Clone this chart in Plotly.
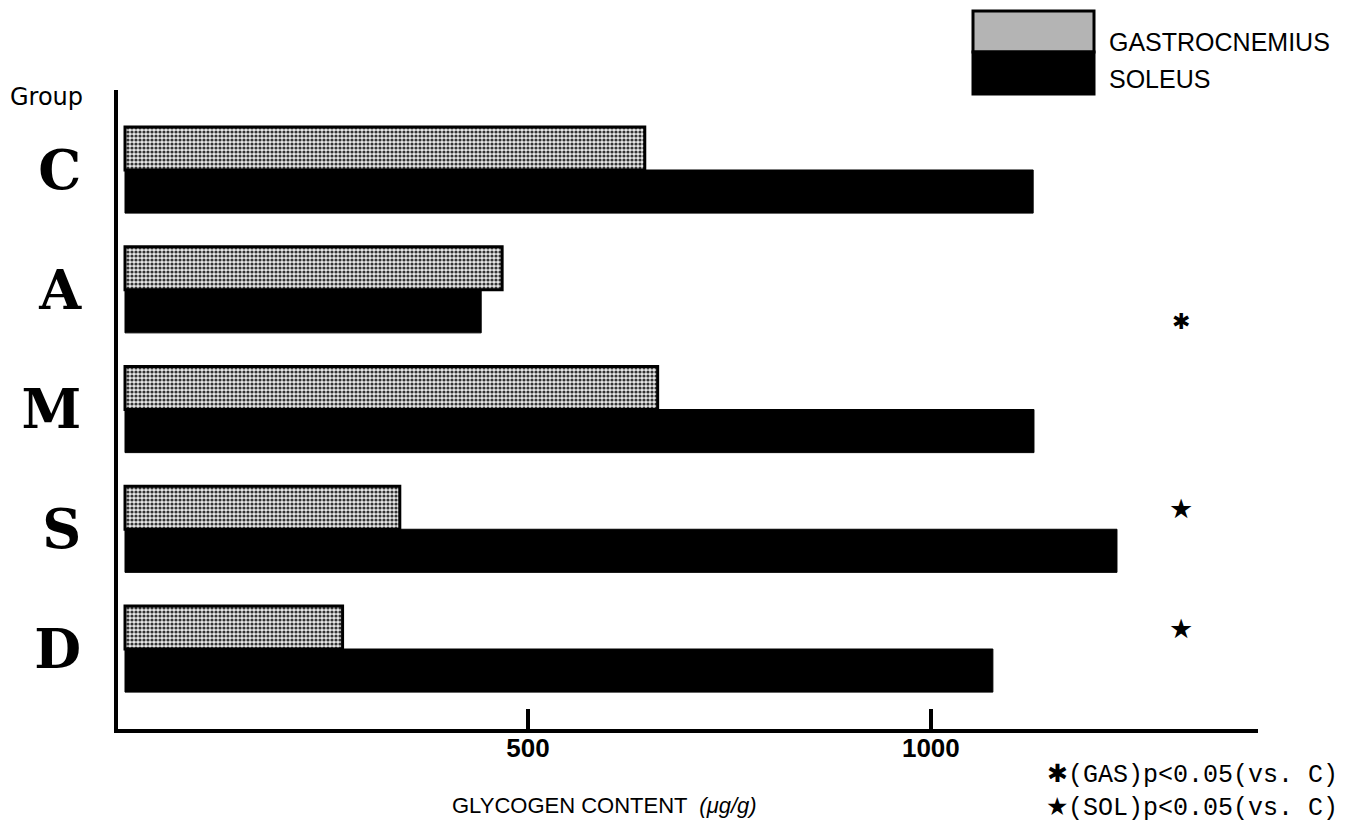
import plotly.graph_objects as go

# ---- data ----
groups = ["C", "A", "M", "S", "D"]
gastrocnemius = [645, 468, 661, 341, 270]
soleus = [1127, 442, 1128, 1231, 1077]
x_tick_vals = [500, 1000]
x_tick_text = ["500", "1000"]
gas_significant = ["A"]
sol_significant = ["S", "D"]

# ---- geometry helpers (plot area in pixels) ----
W, H = 1360, 831
L, R, T, B = 118, 1258, 90, 729
def px_x(p):
    return (p - L) / (R - L)
def px_y(p):
    return (B - p) / (B - T)

fig = go.Figure()
fig.add_trace(go.Bar(
    y=groups, x=gastrocnemius, orientation="h", name="GASTROCNEMIUS",
    marker=dict(color="#c0c0c0", line=dict(color="black", width=3),
                pattern=dict(shape=".", size=4, solidity=0.5,
                             fgcolor="#333333", bgcolor="#e8e8e8", fillmode="replace")),
    showlegend=False,
))
fig.add_trace(go.Bar(
    y=groups, x=soleus, orientation="h", name="SOLEUS",
    marker=dict(color="black", line=dict(color="black", width=1)),
    showlegend=False,
))

annotations = []
for g in gas_significant:
    annotations.append(dict(x=1310, y=g, xref="x", yref="y", text="✱", showarrow=False,
                            yshift=-32, font=dict(size=22, color="black", family="DejaVu Sans")))
for g in sol_significant:
    annotations.append(dict(x=1310, y=g, xref="x", yref="y", text="★", showarrow=False,
                            yshift=21, font=dict(size=27, color="black", family="DejaVu Sans")))

# footnotes
annotations.append(dict(x=px_x(1340), y=px_y(775), xref="paper", yref="paper", xanchor="right",
                        yanchor="middle", showarrow=False, text="✱(GAS)p<0.05(vs. C)",
                        font=dict(size=25, color="black", family="Liberation Mono")))
annotations.append(dict(x=px_x(1340), y=px_y(808), xref="paper", yref="paper", xanchor="right",
                        yanchor="middle", showarrow=False, text="★(SOL)p<0.05(vs. C)",
                        font=dict(size=25, color="black", family="Liberation Mono")))
# x axis title
annotations.append(dict(x=px_x(604), y=px_y(805), xref="paper", yref="paper", xanchor="center",
                        yanchor="middle", showarrow=False,
                        text="GLYCOGEN CONTENT  <i>(μg/g)</i>",
                        font=dict(size=22, color="black", family="Liberation Sans")))
# Group label
annotations.append(dict(x=px_x(8), y=px_y(97), xref="paper", yref="paper", xanchor="left",
                        yanchor="middle", showarrow=False, text="Group",
                        font=dict(size=24, color="black", family="DejaVu Sans")))
# legend texts
annotations.append(dict(x=px_x(1107), y=px_y(42), xref="paper", yref="paper", xanchor="left",
                        yanchor="middle", showarrow=False, text="GASTROCNEMIUS",
                        font=dict(size=25, color="black", family="Liberation Sans")))
annotations.append(dict(x=px_x(1107), y=px_y(79), xref="paper", yref="paper", xanchor="left",
                        yanchor="middle", showarrow=False, text="SOLEUS",
                        font=dict(size=25, color="black", family="Liberation Sans")))

shapes = [
    dict(type="rect", xref="paper", yref="paper", x0=px_x(973), x1=px_x(1094),
         y0=px_y(52), y1=px_y(11), fillcolor="#b4b4b4", line=dict(color="black", width=3)),
    dict(type="rect", xref="paper", yref="paper", x0=px_x(973), x1=px_x(1094),
         y0=px_y(94), y1=px_y(52), fillcolor="black", line=dict(color="black", width=3)),
]

fig.update_layout(
    width=W, height=H,
    margin=dict(l=L, r=W - R, t=T, b=H - B, pad=0),
    paper_bgcolor="white", plot_bgcolor="white",
    barmode="group", bargap=0.28, bargroupgap=0,
    annotations=annotations, shapes=shapes,
    xaxis=dict(range=[-8.7, 1406], showgrid=False, zeroline=False,
               showline=True, linecolor="black", linewidth=4,
               ticks="inside", ticklen=20, tickwidth=4, tickcolor="black",
               tickvals=x_tick_vals, ticktext=["<b>" + t + "</b>" for t in x_tick_text],
               ticklabelstandoff=-7,
               tickfont=dict(size=26, color="black", family="Liberation Sans")),
    yaxis=dict(type="category", categoryorder="array", categoryarray=groups,
               range=[4.668, -0.668], showgrid=False, zeroline=False,
               showline=True, linecolor="black", linewidth=4, ticks="",
               tickvals=groups, ticktext=["<b>" + g + "</b>" for g in groups],
               ticklabelstandoff=22,
               tickfont=dict(size=54, color="black", family="DejaVu Serif")),
)

fig.write_html("out.html")
